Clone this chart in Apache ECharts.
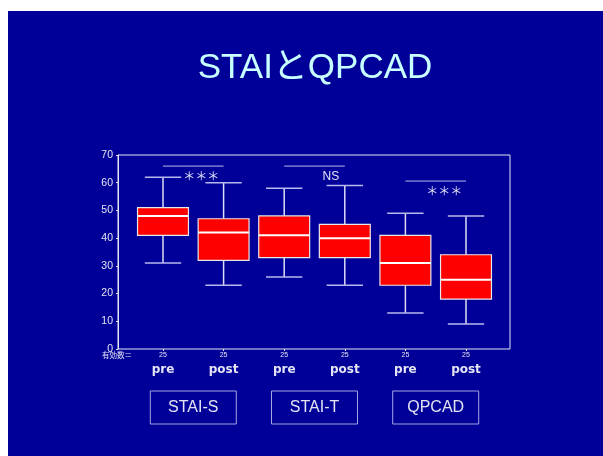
<!DOCTYPE html>
<html><head><meta charset="utf-8">
<script src="https://cdn.jsdelivr.net/npm/echarts@6/dist/echarts.min.js"></script>
<style>html,body{margin:0;padding:0;background:#fff;}#c{width:603px;height:456px;}</style>
</head><body><div id="c"></div>
<script>
// ---- data ----
const titleText = 'STAIとQPCAD';
const categories = ['pre', 'post', 'pre', 'post', 'pre', 'post'];
const nCounts = ['25', '25', '25', '25', '25', '25'];
const nLabel = '有効数＝';
const boxMin = [31, 23, 26, 23, 13, 9];
const boxQ1 = [41, 32, 33, 33, 23, 18];
const boxMedian = [48, 42, 41, 40, 31, 25];
const boxQ3 = [51, 47, 48, 45, 41, 34];
const boxMax = [62, 60, 58, 59, 49, 48];
const groupLabels = ['STAI-S', 'STAI-T', 'QPCAD'];
const sigFrom = [0, 2, 4];
const sigTo = [1, 3, 5];
const sigLineY = [66, 66, 60.6];
const sigText = ['＊＊＊', 'NS', '＊＊＊'];
const sigTextY = [61.8, 62, 56.4];
const sigTextPos = [0.63, 0.77, 0.64];
const yMin = 0, yMax = 70, yStep = 10;

const light = '#e4e4f4';
const chart = echarts.init(document.getElementById('c'));

const boxData = categories.map((c, i) => [i, boxMin[i], boxQ1[i], boxMedian[i], boxQ3[i], boxMax[i]]);
const sigData = sigFrom.map((f, i) => [f, sigTo[i], sigLineY[i], sigTextY[i], sigTextPos[i]]);

const option = {
  backgroundColor: '#000099',
  animation: false,
  title: {
    text: titleText, left: 310, top: 46, textAlign: 'center',
    textStyle: { color: '#c8ffff', fontSize: 35, fontWeight: 'normal', fontFamily: 'Liberation Sans, Noto Sans CJK JP' }
  },
  grid: [
    { left: 118, top: 155, width: 392, height: 194, show: true, borderColor: light, borderWidth: 1, backgroundColor: 'transparent' },
    { left: 132.7, top: 155, width: 363.6, height: 194 }
  ],
  xAxis: [
    { gridIndex: 0, type: 'value', min: 0, max: 1, show: false },
    {
      gridIndex: 1, type: 'category', data: categories,
      axisLine: { show: false },
      axisTick: { show: true, alignWithLabel: true, length: 2, lineStyle: { color: light } },
      axisLabel: {
        margin: 1, interval: 0,
        formatter: (v, idx) => '{n|' + nCounts[idx] + '}\n{c|' + v + '}',
        rich: {
          n: { fontSize: 7, lineHeight: 10, color: light, fontFamily: 'Liberation Sans' },
          c: { fontSize: 12, lineHeight: 20, color: light, fontWeight: 'bold', fontFamily: 'DejaVu Sans' }
        }
      },
      splitLine: { show: false }
    }
  ],
  yAxis: [
    {
      gridIndex: 0, type: 'value', min: yMin, max: yMax, interval: yStep,
      axisLine: { show: true, lineStyle: { color: light } },
      axisTick: { show: true, length: 2, lineStyle: { color: light } },
      axisLabel: { color: light, fontSize: 10.5, margin: 5, fontFamily: 'Liberation Sans' },
      splitLine: { show: false }
    },
    { gridIndex: 1, type: 'value', min: yMin, max: yMax, show: false }
  ],
  graphic: [
    { type: 'rect', shape: { x: 0, y: 0, width: 8, height: 456 }, style: { fill: '#ffffff' }, z: 100 },
    { type: 'rect', shape: { x: 0, y: 0, width: 603, height: 11 }, style: { fill: '#ffffff' }, z: 100 },
    { type: 'text', x: 102, y: 355, style: { text: nLabel, fill: light, fontSize: 7.5, verticalAlign: 'middle', fontFamily: 'Noto Sans CJK JP' } }
  ],
  series: [
    {
      type: 'custom', xAxisIndex: 1, yAxisIndex: 1, data: boxData, z: 3,
      renderItem: (params, api) => {
        const x = api.value(0);
        const pMin = api.coord([x, api.value(1)]);
        const pQ1 = api.coord([x, api.value(2)]);
        const pMed = api.coord([x, api.value(3)]);
        const pQ3 = api.coord([x, api.value(4)]);
        const pMax = api.coord([x, api.value(5)]);
        const band = api.size([1, 0])[0];
        const bw = band * 0.84, cw = band * 0.6;
        const cx = pMed[0];
        const wStyle = { stroke: '#dcdcf6', lineWidth: 1.5 };
        const cStyle = { stroke: '#b8b8ee', lineWidth: 1.5 };
        return {
          type: 'group', children: [
            { type: 'line', shape: { x1: cx, y1: pMax[1], x2: cx, y2: pQ3[1] }, style: wStyle },
            { type: 'line', shape: { x1: cx, y1: pQ1[1], x2: cx, y2: pMin[1] }, style: wStyle },
            { type: 'line', shape: { x1: cx - cw / 2, y1: pMax[1], x2: cx + cw / 2, y2: pMax[1] }, style: cStyle },
            { type: 'line', shape: { x1: cx - cw / 2, y1: pMin[1], x2: cx + cw / 2, y2: pMin[1] }, style: cStyle },
            { type: 'rect', shape: { x: cx - bw / 2, y: pQ3[1], width: bw, height: pQ1[1] - pQ3[1] }, style: { fill: '#ff0000', stroke: '#e8e8e8', lineWidth: 1.2 } },
            { type: 'line', shape: { x1: cx - bw / 2, y1: pMed[1], x2: cx + bw / 2, y2: pMed[1] }, style: { stroke: '#ffffff', lineWidth: 2 } }
          ]
        };
      }
    },
    {
      type: 'custom', xAxisIndex: 1, yAxisIndex: 1, data: sigData, z: 3,
      renderItem: (params, api) => {
        const a = api.coord([api.value(0), api.value(2)]);
        const b = api.coord([api.value(1), api.value(2)]);
        const t = api.coord([api.value(0), api.value(3)]);
        const tx = a[0] + (b[0] - a[0]) * api.value(4);
        return {
          type: 'group', children: [
            { type: 'line', shape: { x1: a[0], y1: a[1], x2: b[0], y2: b[1] }, style: { stroke: '#b8b8ee', lineWidth: 1 } },
            { type: 'text', x: tx, y: t[1], style: { text: sigText[params.dataIndex], fill: light, fontSize: 12, align: 'center', verticalAlign: 'middle', fontFamily: 'Liberation Sans, Noto Sans CJK JP' } }
          ]
        };
      }
    }
  ]
};
chart.setOption(option);

// group label boxes centered under each category pair
const extra = groupLabels.map((g, i) => {
  const a = chart.convertToPixel({ xAxisIndex: 1 }, sigFrom[i]);
  const b = chart.convertToPixel({ xAxisIndex: 1 }, sigTo[i]);
  const cx = (a + b) / 2;
  return {
    type: 'group', x: cx, y: 407.5, children: [
      { type: 'rect', shape: { x: -43, y: -16.5, width: 86, height: 33 }, style: { fill: 'none', stroke: '#a4a4e4', lineWidth: 1 } },
      { type: 'text', x: 0, y: 0, style: { text: g, fill: light, fontSize: 16, align: 'center', verticalAlign: 'middle', fontFamily: 'Liberation Sans' } }
    ]
  };
});
chart.setOption({ graphic: option.graphic.concat(extra) });
</script>
</body></html>
